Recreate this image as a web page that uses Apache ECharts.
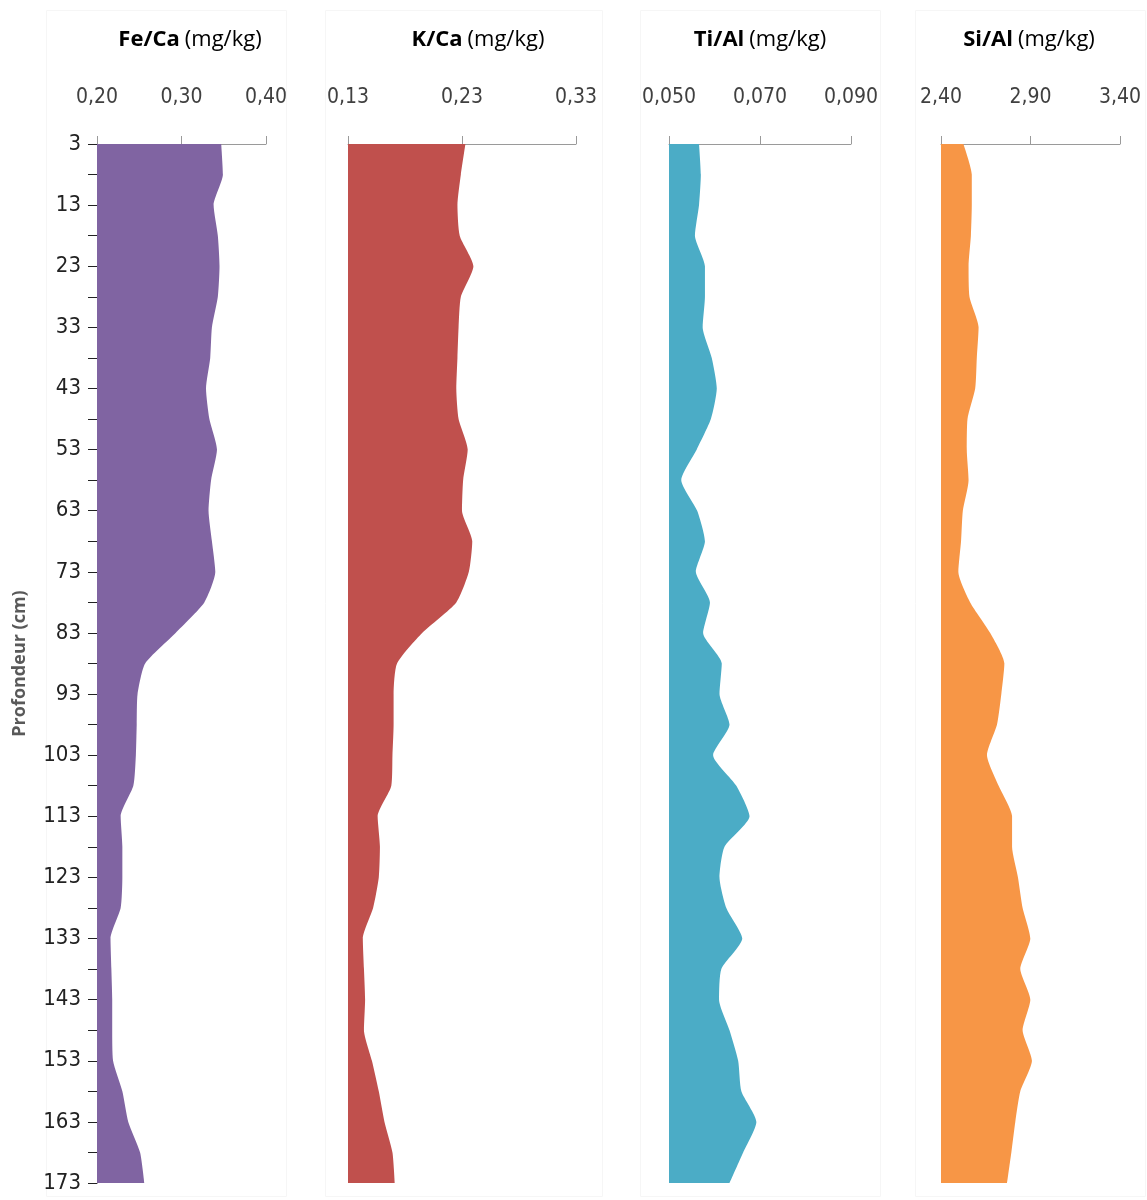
<!DOCTYPE html>
<html>
<head>
<meta charset="utf-8">
<script src="https://cdn.jsdelivr.net/npm/echarts@6/dist/echarts.min.js"></script>
<style>
html,body{margin:0;padding:0;background:#fff;}
#chart{width:1147px;height:1200px;}
</style>
</head>
<body>
<div id="chart"></div>
<script>
// ---- data ----
const depths = [3, 8, 13, 18, 23, 28, 33, 38, 43, 48, 53, 58, 63, 68, 73, 78, 83, 88,
  93, 98, 103, 108, 113, 118, 123, 128, 133, 138, 143, 148, 153, 158, 163, 168, 173];
const depthLabels = [3, 13, 23, 33, 43, 53, 63, 73, 83, 93, 103, 113, 123, 133, 143, 153, 163, 173];

const feCa = [0.347, 0.349, 0.338, 0.343, 0.345, 0.343, 0.336, 0.334, 0.329, 0.333, 0.342, 0.335,
  0.332, 0.336, 0.340, 0.327, 0.293, 0.257, 0.248, 0.247, 0.246, 0.243, 0.228, 0.230, 0.230,
  0.228, 0.216, 0.217, 0.218, 0.218, 0.219, 0.230, 0.237, 0.251, 0.256];
const kCa = [0.233, 0.229, 0.226, 0.228, 0.240, 0.229, 0.227, 0.226, 0.225, 0.227, 0.235, 0.231,
  0.230, 0.239, 0.236, 0.225, 0.195, 0.173, 0.170, 0.170, 0.169, 0.168, 0.156, 0.158, 0.157,
  0.152, 0.143, 0.144, 0.145, 0.144, 0.151, 0.157, 0.162, 0.169, 0.171];
const tiAl = [0.0566, 0.0570, 0.0566, 0.0557, 0.0579, 0.0579, 0.0574, 0.0594, 0.0605, 0.0592,
  0.0561, 0.0527, 0.0562, 0.0579, 0.0559, 0.0590, 0.0575, 0.0616, 0.0611, 0.0633, 0.0597,
  0.0648, 0.0677, 0.0622, 0.0611, 0.0626, 0.0661, 0.0615, 0.0610, 0.0633, 0.0652, 0.0659,
  0.0692, 0.0663, 0.0633];
const siAl = [2.525, 2.572, 2.572, 2.567, 2.554, 2.559, 2.610, 2.600, 2.591, 2.548, 2.544, 2.554,
  2.522, 2.512, 2.497, 2.563, 2.675, 2.754, 2.737, 2.713, 2.657, 2.722, 2.797, 2.797, 2.830,
  2.856, 2.899, 2.843, 2.899, 2.856, 2.908, 2.843, 2.815, 2.793, 2.769];

const feCaTicks = [0.20, 0.30, 0.40];
const kCaTicks = [0.13, 0.23, 0.33];
const tiAlTicks = [0.050, 0.070, 0.090];
const siAlTicks = [2.40, 2.90, 3.40];

const panelNames = ['Fe/Ca', 'K/Ca', 'Ti/Al', 'Si/Al'];
const unitText = '(mg/kg)';
const yAxisTitle = 'Profondeur (cm)';

// ---- layout / style ----
const panels = [
  {data: feCa, ticks: feCaTicks, dec: 2, color: '#8064A2', left: 97, width: 169, titleX: 185},
  {data: kCa, ticks: kCaTicks, dec: 2, color: '#C0504D', left: 348, width: 228, titleX: 473},
  {data: tiAl, ticks: tiAlTicks, dec: 3, color: '#4BACC6', left: 669, width: 182, titleX: 755},
  {data: siAl, ticks: siAlTicks, dec: 2, color: '#F79646', left: 941, width: 179, titleX: 1024}
];
const TOP = 144, HEIGHT = 1039;
const narrow = '"DejaVu Sans Condensed", "Liberation Sans Narrow", "Open Sans", sans-serif';

const grid = [], xAxis = [], yAxis = [], series = [], title = [];
panels.forEach((p, i) => {
  grid.push({left: p.left, top: TOP, width: p.width, height: HEIGHT, containLabel: false, outerBoundsMode: 'none'});
  xAxis.push({
    type: 'value', gridIndex: i, position: 'top',
    min: p.ticks[0], max: p.ticks[p.ticks.length - 1],
    splitLine: {show: false},
    axisLine: {show: true, lineStyle: {color: '#9a9a9a', width: 1}},
    axisTick: {show: true, customValues: p.ticks, length: 8, lineStyle: {color: '#9a9a9a'}},
    axisLabel: {
      customValues: p.ticks, margin: 36, fontFamily: narrow, fontSize: 21, color: '#404040',
      formatter: v => Number(v).toFixed(p.dec).replace('.', ',')
    }
  });
  const showY = i === 0;
  yAxis.push({
    type: 'category', gridIndex: i, data: depths, inverse: true, boundaryGap: false,
    name: showY ? yAxisTitle : '', nameLocation: 'middle', nameGap: 68, nameRotate: 90,
    nameTextStyle: {fontFamily: '"Open Sans", sans-serif', fontWeight: 'bold', fontSize: 18, color: '#595959'},
    axisLine: {show: showY, lineStyle: {color: '#333', width: 1}},
    axisTick: {show: showY, length: 9, interval: 0, lineStyle: {color: '#222'}},
    axisLabel: {
      show: showY, interval: 0, margin: 16, fontFamily: narrow, fontSize: 22, color: '#222',
      formatter: v => depthLabels.indexOf(Number(v)) >= 0 ? String(v) : ''
    },
    splitLine: {show: false}
  });
  series.push({
    type: 'line', xAxisIndex: i, yAxisIndex: i, data: p.data,
    showSymbol: false, symbol: 'none', smooth: 0.2,
    lineStyle: {width: 0, color: p.color},
    areaStyle: {color: p.color, opacity: 1, origin: 'start'},
    silent: true
  });
  title.push({
    text: '{b|' + panelNames[i] + '} {n|' + unitText + '}',
    left: p.titleX, top: 24, textAlign: 'center',
    textStyle: {
      rich: {
        b: {fontFamily: '"Open Sans", sans-serif', fontWeight: 'bold', fontSize: 22, color: '#000'},
        n: {fontFamily: '"Open Sans", sans-serif', fontWeight: 'normal', fontSize: 22, color: '#000'}
      }
    }
  });
});

const borders = [[46, 286], [325, 602], [640, 880], [915, 1145]];
const graphic = borders.map(b => ({
  type: 'rect', silent: true, z: -10,
  shape: {x: b[0] + 0.5, y: 10.5, width: b[1] - b[0], height: 1186},
  style: {fill: 'none', stroke: '#f6f6f6', lineWidth: 1}
}));

const chart = echarts.init(document.getElementById('chart'), null, {renderer: 'canvas'});
chart.setOption({
  backgroundColor: '#ffffff',
  animation: false,
  title, grid, xAxis, yAxis, series, graphic
});
</script>
</body>
</html>
